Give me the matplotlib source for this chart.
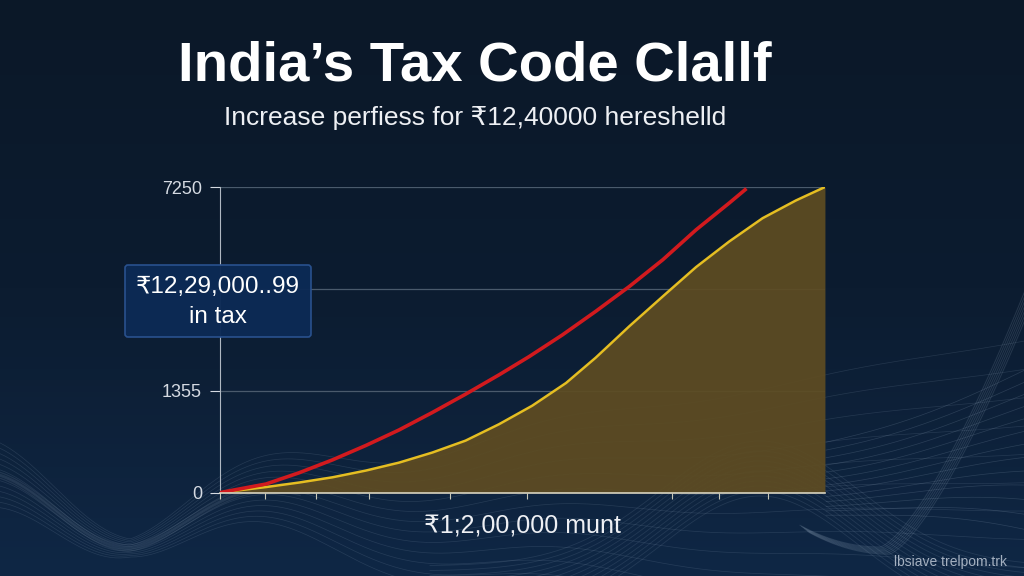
import numpy as np
import matplotlib
matplotlib.use("Agg")
import matplotlib.pyplot as plt
from matplotlib.patches import FancyBboxPatch

plt.rcParams['font.family'] = ['Liberation Sans', 'DejaVu Sans']

# data
red_x = [0, 7.6, 13.1, 18.6, 24.1, 29.6, 35.1, 40.6, 46.1, 51.1, 56.6, 62.1, 67.7, 73.2, 78.7, 84.2, 86.8]
red_y = [0, 203, 471, 776, 1117, 1486, 1900, 2335, 2791, 3226, 3741, 4299, 4894, 5525, 6235, 6873, 7185]
yel_x = [0, 7.6, 13.1, 18.6, 24.1, 29.6, 35.1, 40.6, 46.1, 51.6, 57.2, 62.1, 67.7, 73.2, 78.7, 84.2, 89.7, 95.2, 100]
yel_y = [0, 131, 239, 363, 522, 711, 950, 1233, 1620, 2060, 2600, 3200, 3951, 4655, 5351, 5960, 6511, 6931, 7250]
ytick_pos = [0, 2417, 4833, 7250]
ytick_lab = ['0', '1355', '', '7250']
xtick_pos = [0, 7.4, 15.8, 24.6, 38.1, 50.7, 74.8, 82.5, 90.6]

title = "India\u2019s Tax Code Clallf"
subtitle = "Increase perfiess for \u20b912,40000 hereshelld"
box_text = "\u20b912,29,000..99\nin tax"
xlabel = "\u20b91;2,00,000 munt"
watermark = "lbsiave trelpom.trk"

fig = plt.figure(figsize=(10.24, 5.76), dpi=100)

# background: gradient plus decorative wave lines (pixel coordinates)
bg = fig.add_axes([0, 0, 1, 1])
grad = np.linspace(0, 1, 100)[:, None]
cmap = matplotlib.colors.LinearSegmentedColormap.from_list('bg', ['#0b1828', '#0c1c30', '#0f2745'])
bg.imshow(grad, aspect='auto', cmap=cmap, extent=[0, 1024, 576, 0])

# bottom-left wave, knotted near (130, 548), fanning out to the right
xs = np.linspace(0, 1024, 400)
base = 510 + 38 * np.cos(np.pi * (xs - 130) / 150) * np.exp(-np.clip(xs - 130, 0, None) / 250)
for k in range(13):
    off = (k - 6) * (1.5 + 0.03 * np.abs(xs - 130))
    bg.plot(xs, base + off, color='#9db2c8', lw=0.5, alpha=0.16)
xk = np.linspace(0, 300, 150)
bk = 510 + 38 * np.cos(np.pi * (xk - 130) / 150) * np.exp(-np.clip(xk - 130, 0, None) / 250)
for k in range(4):
    bg.plot(xk, bk + k * 2 - 3, color='#b5c4d4', lw=0.9, alpha=0.12)

# hump under the right part of the plot
xh = np.linspace(430, 1024, 300)
for k in range(12):
    yh = 566 - 125 * np.exp(-((xh - 760) / 140) ** 2) + k * 5
    bg.plot(xh, yh, color='#9db2c8', lw=0.6, alpha=0.14)

# right swoosh
xr = np.linspace(800, 1024, 300)
yr = np.where(xr < 880, 547 - 34 * ((880 - xr) / 100) ** 2,
              547 - 254 * (np.clip(xr - 880, 0, None) / 144) ** 1.4)
for k in range(7):
    bg.plot(xr + k * 1.5, yr + k * 1.2, color='#a8bccf', lw=0.7, alpha=0.16)
xf = np.linspace(826, 1024, 200)
u = (xf - 800) / 224
for k in range(13):
    yf = 478 + (k - 6) * (5 + 9 * u) - 25 * u + 10 * np.sin(3 * u + k * 0.2)
    bg.plot(xf, yf, color='#9db2c8', lw=0.5, alpha=0.2)
bg.set_xlim(0, 1024)
bg.set_ylim(576, 0)
bg.axis('off')

ax = fig.add_axes([0.2148, 0.1448, 0.5908, 0.5305])
ax.set_facecolor('none')
ax.fill_between(yel_x, yel_y, 0, color='#5e4c22', alpha=0.93, zorder=2, lw=0)
ax.plot(yel_x, yel_y, color='#e5be22', lw=1.8, zorder=3, solid_joinstyle='round')
ax.plot(red_x, red_y, color='#d21a1e', lw=2.6, zorder=4, solid_joinstyle='round')

ax.set_xlim(0, 100)
ax.set_ylim(0, 7250)
ax.set_yticks(ytick_pos)
ax.set_yticklabels(ytick_lab)
ax.set_xticks(xtick_pos)
ax.set_xticklabels([])
ax.grid(axis='y', color='#4a5a6c', lw=0.9, zorder=1)
ax.tick_params(axis='y', colors='#d5dae2', labelsize=13, length=7, width=0.8, pad=6)
ax.tick_params(axis='x', colors='#c8c8b8', length=4, width=0.8)
for s in ['top', 'right']:
    ax.spines[s].set_visible(False)
ax.spines['left'].set_color('#b0b8c2')
ax.spines['left'].set_linewidth(0.8)
ax.spines['bottom'].set_color('#d8d4c0')
ax.spines['bottom'].set_linewidth(1.2)
ax.spines['bottom'].set_zorder(5)
ax.set_xlabel(xlabel, color='#eef0f4', fontsize=18, labelpad=8)

fig.text(0.464, 0.885, title, ha='center', va='center', color='white',
         fontsize=40.5, fontweight='bold')
fig.text(0.464, 0.795, subtitle, ha='center', va='center', color='#eef0f4',
         fontsize=19)

box = FancyBboxPatch((125, 265), 186, 72, boxstyle='round,pad=0,rounding_size=3',
                     transform=bg.transData, facecolor='#0c2a55', edgecolor='#2a5290',
                     lw=1.2, zorder=10, alpha=0.97)
fig.add_artist(box)
fig.text(218 / 1024, 1 - 302 / 576, box_text, ha='center', va='center', color='white',
         fontsize=17.5, linespacing=1.45, zorder=11)

fig.text(1007 / 1024, 1 - 562 / 576, watermark, ha='right', va='center',
         color='#a4b0c0', fontsize=10)

fig.savefig('out.png', dpi=100, facecolor='#0c1a2b')
